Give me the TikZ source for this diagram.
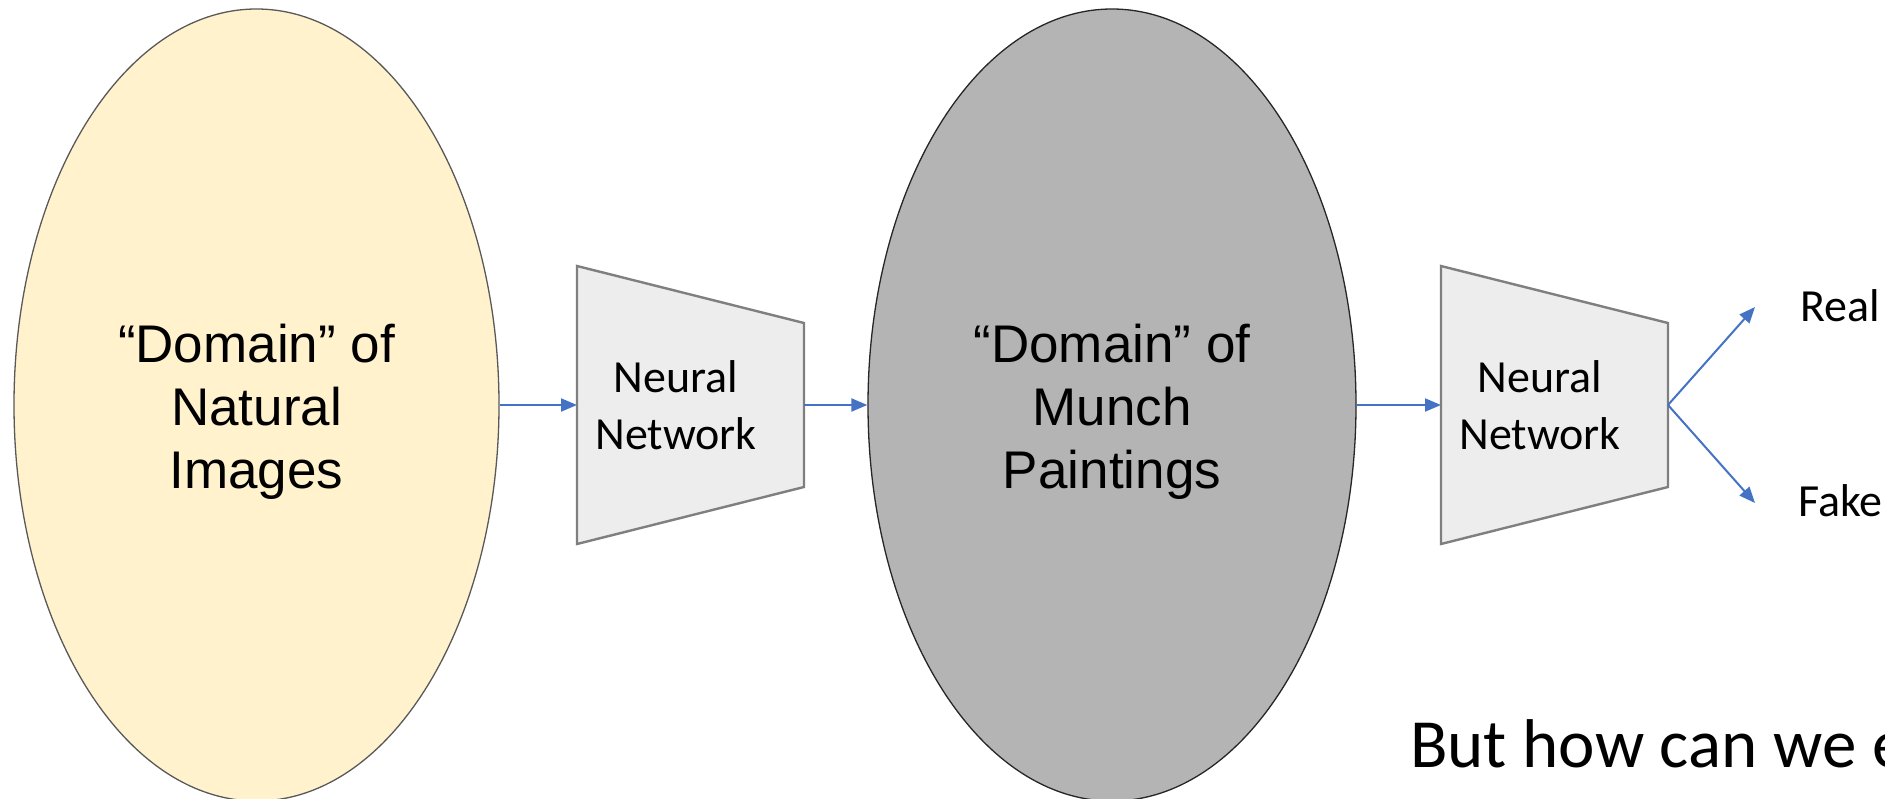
\documentclass[tikz,border=0pt]{standalone}
\usepackage{fontspec}
\setmainfont{Carlito}
\newfontfamily\arialfont{Liberation Sans}
\usetikzlibrary{shapes.geometric,arrows.meta}
\definecolor{cream}{HTML}{FFF2CC}
\definecolor{midgray}{HTML}{B4B4B4}
\definecolor{boxfill}{HTML}{EDEDED}
\definecolor{boxline}{HTML}{7F7F7F}
\definecolor{arrowblue}{HTML}{4472C4}
\tikzset{
  domain/.style={ellipse, minimum width=#1, minimum height=792, inner sep=0pt, line width=1.3pt},
  domaintext/.style={align=center, inner sep=0pt, font=\arialfont\fontsize{53pt}{63pt}\selectfont},
  netbox/.style={draw=boxline, fill=boxfill, line width=2.4pt, line join=miter},
  nettext/.style={align=center, inner sep=0pt, font=\fontsize{46pt}{57pt}\selectfont},
  flow/.style={draw=arrowblue, line width=2pt, -{Triangle[length=16pt,width=13pt]}},
  outlabel/.style={anchor=base west, inner sep=0pt, font=\fontsize{46pt}{57pt}\selectfont},
}
\begin{document}
\begin{tikzpicture}[x=1pt,y=-1pt]
\useasboundingbox (0,0) rectangle (1885,798);
% domains
\node[domain=485, draw=black!65, fill=cream] (e1) at (256.5,405) {};
\node[domaintext] (e1text) at (256.5,412) {“Domain” of\\Natural\\Images};
\node[domain=488, draw=black!85, fill=midgray] (e2) at (1112,405) {};
\node[domaintext] (e2text) at (1112,412) {“Domain” of\\Munch\\Paintings};
% network 1
\draw[netbox] (577,266) -- (804,323) -- (804,487) -- (577,544) -- cycle;
\coordinate (t1in) at (577,405);
\coordinate (t1out) at (804,405);
\node[nettext] (n1) at (676,405) {Neural\\Network};
% network 2
\draw[netbox] (1441,266) -- (1668,323) -- (1668,487) -- (1441,544) -- cycle;
\coordinate (t2in) at (1441,405);
\coordinate (t2out) at (1668,405);
\node[nettext] (n2) at (1540,405) {Neural\\Network};
% outputs
\coordinate (realtip) at (1755,307);
\coordinate (faketip) at (1755,503);
\node[outlabel] (real) at (1800,321) {Real};
\node[outlabel] (fake) at (1798,516) {Fake};
\node[anchor=base west, inner sep=0pt, font=\fontsize{69pt}{80pt}\selectfont] (q) at (1410,767) {But how can we e};
% connectors
\draw[flow] (e1.east) -- (t1in);
\draw[flow] (t1out) -- (e2.west);
\draw[flow] (e2.east) -- (t2in);
\draw[flow] (t2out) -- (realtip);
\draw[flow] (t2out) -- (faketip);
\end{tikzpicture}
\end{document}
